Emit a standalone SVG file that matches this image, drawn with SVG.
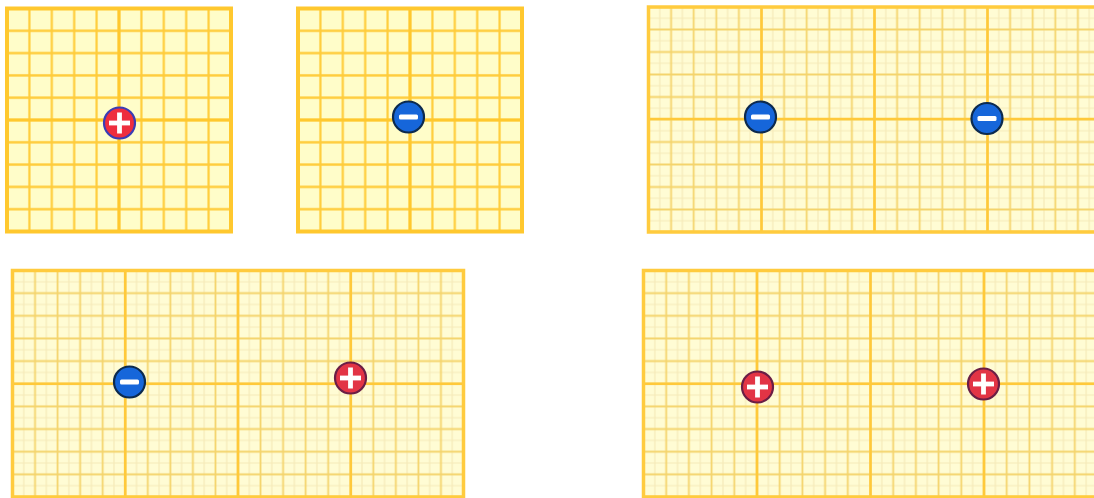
<svg xmlns="http://www.w3.org/2000/svg" width="1094" height="498" viewBox="0 0 1094 498">
<style>
.bg1{fill:#FFFDC9}
.bg2{fill:#FFFCD4}
.maj1{stroke:#FFC82E;stroke-width:3;fill:none}
.bd1{stroke:#FFC82E;stroke-width:4;fill:none}
.maj2{stroke:#FFC93A;stroke-width:2.6;fill:none}
.bd2{stroke:#FFCB3E;stroke-width:3.5;fill:none}
.wt{fill:#FFFFFF}
</style>
<defs>
<pattern id="p1" x="-4.2" y="-2.65" width="22.4" height="22.3" patternUnits="userSpaceOnUse"><path d="M11.2 0V22.3M0 11.15H22.4" stroke="#FFCC3A" stroke-width="2.2"/></pattern>
<pattern id="p2" x="286.8" y="-2.65" width="22.4" height="22.3" patternUnits="userSpaceOnUse"><path d="M11.2 0V22.3M0 11.15H22.4" stroke="#FFCC3A" stroke-width="2.2"/></pattern>
<pattern id="p3" x="637.2" y="-4.25" width="22.6" height="22.5" patternUnits="userSpaceOnUse"><path d="M0 0V22.5M22.6 0V22.5M0 0H22.6M0 22.5H22.6" stroke="#F6EAB8" stroke-width="1.2"/><path d="M11.3 0V22.5M0 11.25H22.6" stroke="#F4D46C" stroke-width="1.8"/></pattern>
<pattern id="p4" x="1.225" y="259.175" width="22.55" height="22.65" patternUnits="userSpaceOnUse"><path d="M0 0V22.65M22.55 0V22.65M0 0H22.55M0 22.65H22.55" stroke="#F6EAB8" stroke-width="1.2"/><path d="M11.275 0V22.65M0 11.325H22.55" stroke="#F4D46C" stroke-width="1.8"/></pattern>
<pattern id="p5" x="632.15" y="259.175" width="22.7" height="22.65" patternUnits="userSpaceOnUse"><path d="M0 0V22.65M22.7 0V22.65M0 0H22.7M0 22.65H22.7" stroke="#F6EAB8" stroke-width="1.2"/><path d="M11.35 0V22.65M0 11.325H22.7" stroke="#F4D46C" stroke-width="1.8"/></pattern>
<g id="plusA"><circle r="15.5" fill="#EE2E3E" stroke="#3A3DB5" stroke-width="2.2"/><rect x="-10.5" y="-2.4" width="21" height="4.8" class="wt"/><rect x="-2.4" y="-10.5" width="4.8" height="21" class="wt"/></g>
<g id="plusB"><circle r="15.5" fill="#E23445" stroke="#6A1E45" stroke-width="2.2"/><rect x="-10.5" y="-2.4" width="21" height="4.8" class="wt"/><rect x="-2.4" y="-10.5" width="4.8" height="21" class="wt"/></g>
<g id="minus"><circle r="15.5" fill="#1666DA" stroke="#0C2A4E" stroke-width="2.2"/><rect x="-9.5" y="-2.6" width="19" height="5.2" rx="1.5" class="wt"/></g>
</defs>

<g id="panel1">
<rect x="7" y="8.5" width="224" height="223" class="bg1"/>
<rect x="7" y="8.5" width="224" height="223" fill="url(#p1)"/>
<path d="M119 8.5V231.5M7 120H231" class="maj1"/>
<rect x="7" y="8.5" width="224" height="223" class="bd1"/>
<use href="#plusA" x="119.5" y="123"/>
</g>

<g id="panel2">
<rect x="298" y="8.5" width="224" height="223" class="bg1"/>
<rect x="298" y="8.5" width="224" height="223" fill="url(#p2)"/>
<path d="M410 8.5V231.5M298 120H522" class="maj1"/>
<rect x="298" y="8.5" width="224" height="223" class="bd1"/>
<use href="#minus" x="408.5" y="117"/>
</g>

<g id="panel3">
<rect x="648.5" y="7" width="460" height="225" class="bg2"/>
<rect x="648.5" y="7" width="460" height="225" fill="url(#p3)"/>
<path d="M761.5 7V232M874.5 7V232M987.5 7V232M648.5 119H1094" class="maj2"/>
<rect x="648.5" y="7" width="460" height="225" class="bd2"/>
<use href="#minus" x="760.5" y="117"/>
<use href="#minus" x="987" y="118.5"/>
</g>

<g id="panel4">
<rect x="12.5" y="270.5" width="451" height="226.5" class="bg2"/>
<rect x="12.5" y="270.5" width="451" height="226.5" fill="url(#p4)"/>
<path d="M125.25 270.5V497M238 270.5V497M350.75 270.5V497M12.5 383.75H463.5" class="maj2"/>
<rect x="12.5" y="270.5" width="451" height="226.5" class="bd2"/>
<use href="#minus" x="129.5" y="382"/>
<use href="#plusB" x="350.5" y="378"/>
</g>

<g id="panel5">
<rect x="643.5" y="270.5" width="460" height="226.5" class="bg2"/>
<rect x="643.5" y="270.5" width="460" height="226.5" fill="url(#p5)"/>
<path d="M757 270.5V497M870.5 270.5V497M984 270.5V497M643.5 383.75H1094" class="maj2"/>
<rect x="643.5" y="270.5" width="460" height="226.5" class="bd2"/>
<use href="#plusB" x="757.5" y="387"/>
<use href="#plusB" x="983.5" y="384"/>
</g>

<g id="connectors"/>
</svg>
